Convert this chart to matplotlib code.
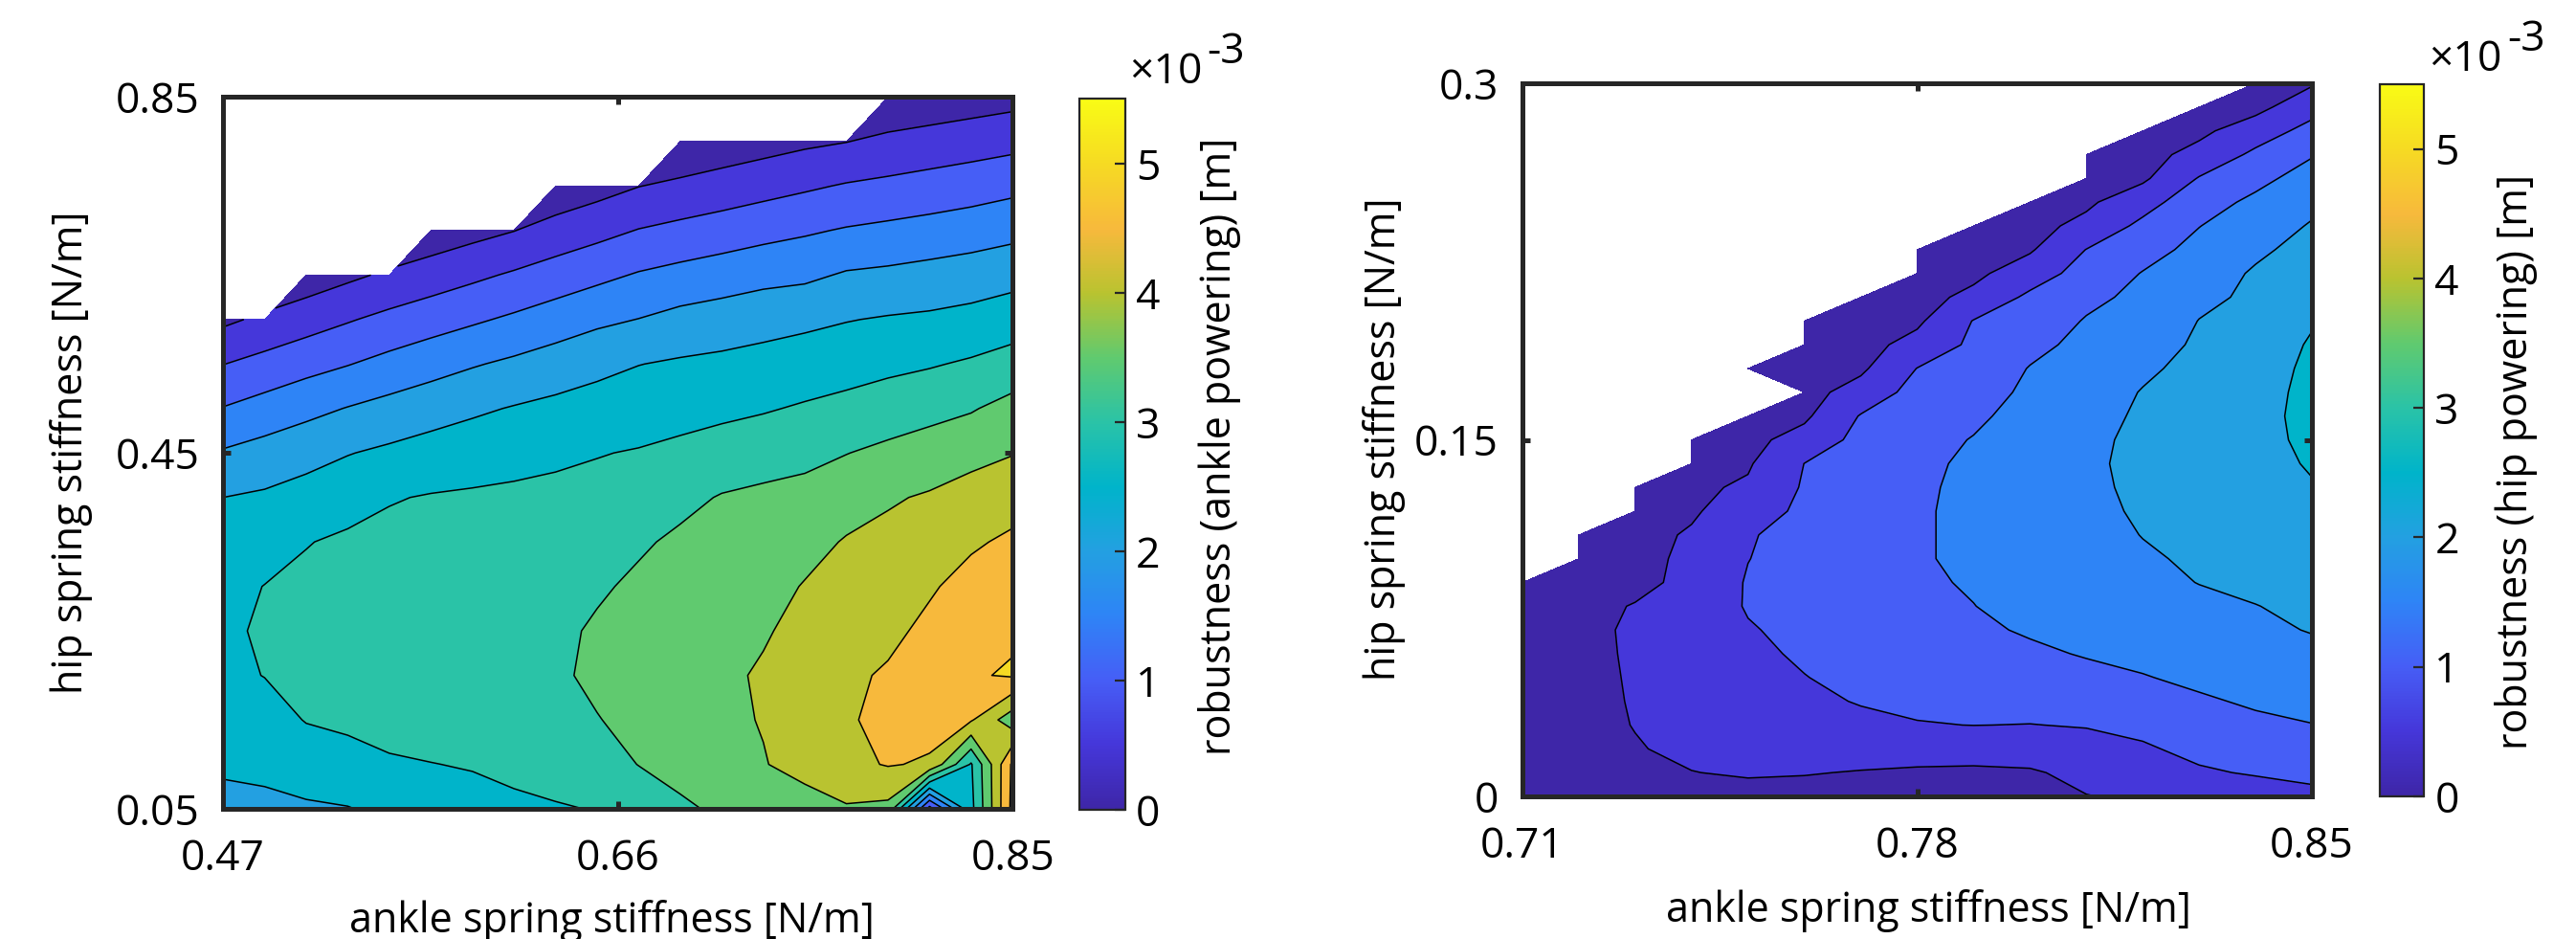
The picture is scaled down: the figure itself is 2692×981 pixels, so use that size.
import numpy as np
import matplotlib.pyplot as plt
from matplotlib.colors import LinearSegmentedColormap, Normalize
from matplotlib.cm import ScalarMappable

plt.rcParams['font.family'] = ['Open Sans', 'DejaVu Sans']

nan = np.nan

# ---- left panel: robustness (ankle powering), values in 1e-3 m ----
ankle_L = [0.47, 0.49, 0.51, 0.53, 0.55, 0.57, 0.59, 0.61, 0.63, 0.65,
           0.67, 0.69, 0.71, 0.73, 0.75, 0.77, 0.79, 0.81, 0.83, 0.85]
hip_L = [0.05, 0.10, 0.15, 0.20, 0.25, 0.30, 0.35, 0.40, 0.45,
         0.50, 0.55, 0.60, 0.65, 0.70, 0.75, 0.80, 0.85]
# one row per hip value (bottom to top), one column per ankle value
rob_ankle = [
    [2.30, 2.38, 2.43, 2.48, 2.60, 2.78, 2.84, 2.90, 2.96, 3.02, 3.20, 3.45, 3.55, 3.65, 3.75, 3.95, 3.87, 0.80, 2.85, 5.15],
    [2.60, 2.62, 2.76, 2.81, 2.95, 2.99, 3.03, 3.12, 3.20, 3.30, 3.51, 3.60, 3.78, 3.97, 4.20, 4.38, 4.53, 4.45, 2.95, 5.10],
    [2.78, 2.82, 3.02, 3.10, 3.15, 3.20, 3.22, 3.26, 3.36, 3.48, 3.64, 3.75, 3.88, 4.03, 4.30, 4.45, 4.62, 4.65, 4.55, 3.70],
    [2.90, 3.01, 3.12, 3.18, 3.22, 3.25, 3.28, 3.32, 3.42, 3.60, 3.70, 3.78, 3.90, 4.06, 4.25, 4.42, 4.55, 4.70, 4.95, 5.05],
    [2.93, 3.05, 3.15, 3.20, 3.25, 3.28, 3.30, 3.33, 3.40, 3.56, 3.66, 3.75, 3.88, 3.95, 4.15, 4.32, 4.40, 4.60, 4.80, 4.93],
    [2.85, 3.01, 3.10, 3.17, 3.20, 3.22, 3.26, 3.28, 3.33, 3.44, 3.58, 3.68, 3.82, 3.82, 4.03, 4.20, 4.27, 4.45, 4.65, 4.78],
    [2.70, 2.79, 2.98, 3.08, 3.12, 3.15, 3.17, 3.20, 3.25, 3.29, 3.44, 3.58, 3.72, 3.68, 3.83, 4.04, 4.12, 4.25, 4.44, 4.58],
    [2.50, 2.57, 2.69, 2.81, 2.97, 3.03, 3.06, 3.08, 3.12, 3.14, 3.24, 3.38, 3.53, 3.60, 3.63, 3.77, 3.95, 4.05, 4.20, 4.32],
    [2.05, 2.19, 2.33, 2.48, 2.59, 2.70, 2.78, 2.86, 2.91, 2.98, 3.03, 3.11, 3.21, 3.29, 3.39, 3.49, 3.60, 3.72, 3.85, 3.98],
    [1.52, 1.69, 1.86, 2.02, 2.16, 2.29, 2.42, 2.53, 2.62, 2.70, 2.77, 2.83, 2.89, 2.96, 3.05, 3.14, 3.26, 3.35, 3.46, 3.67],
    [0.99, 1.16, 1.33, 1.48, 1.65, 1.81, 1.96, 2.09, 2.23, 2.37, 2.49, 2.56, 2.61, 2.67, 2.73, 2.80, 2.88, 2.96, 3.06, 3.19],
    [0.40, 0.60, 0.78, 0.96, 1.13, 1.28, 1.43, 1.58, 1.74, 1.90, 2.01, 2.15, 2.23, 2.32, 2.40, 2.48, 2.54, 2.58, 2.65, 2.77],
    [nan, nan, 0.21, 0.40, 0.58, 0.74, 0.90, 1.06, 1.22, 1.38, 1.54, 1.65, 1.75, 1.85, 1.90, 2.05, 2.10, 2.17, 2.24, 2.33],
    [nan, nan, nan, nan, nan, 0.18, 0.34, 0.49, 0.69, 0.85, 1.02, 1.13, 1.23, 1.34, 1.44, 1.54, 1.61, 1.68, 1.76, 1.86],
    [nan, nan, nan, nan, nan, nan, nan, nan, 0.14, 0.31, 0.49, 0.60, 0.71, 0.82, 0.93, 1.04, 1.11, 1.19, 1.27, 1.37],
    [nan, nan, nan, nan, nan, nan, nan, nan, nan, nan, nan, 0.07, 0.19, 0.30, 0.41, 0.49, 0.61, 0.69, 0.77, 0.85],
    [nan, nan, nan, nan, nan, nan, nan, nan, nan, nan, nan, nan, nan, nan, nan, nan, 0.09, 0.17, 0.25, 0.33],
]

# ---- right panel: robustness (hip powering), values in 1e-3 m ----
ankle_R = [0.71, 0.72, 0.73, 0.74, 0.75, 0.76, 0.77, 0.78,
           0.79, 0.80, 0.81, 0.82, 0.83, 0.84, 0.85]
hip_R = [0.00, 0.01, 0.02, 0.03, 0.04, 0.05, 0.06, 0.07, 0.08, 0.09, 0.10,
         0.11, 0.12, 0.13, 0.14, 0.15, 0.16, 0.17, 0.18, 0.19, 0.20,
         0.21, 0.22, 0.23, 0.24, 0.25, 0.26, 0.27, 0.28, 0.29, 0.30]
rob_hip = [
    [0.15, 0.20, 0.25, 0.30, 0.33, 0.36, 0.38, 0.40, 0.42, 0.45, 0.49, 0.55, 0.62, 0.70, 0.88],
    [0.20, 0.27, 0.38, 0.49, 0.55, 0.52, 0.48, 0.45, 0.44, 0.46, 0.60, 0.75, 0.93, 1.05, 1.12],
    [0.25, 0.33, 0.47, 0.60, 0.68, 0.70, 0.68, 0.66, 0.65, 0.68, 0.80, 0.93, 1.15, 1.27, 1.32],
    [0.28, 0.35, 0.515, 0.68, 0.80, 0.86, 0.92, 0.98, 1.005, 0.99, 1.03, 1.15, 1.30, 1.42, 1.49],
    [0.30, 0.37, 0.53, 0.72, 0.85, 0.93, 1.02, 1.08, 1.12, 1.18, 1.25, 1.35, 1.45, 1.55, 1.62],
    [0.32, 0.38, 0.54, 0.73, 0.88, 0.99, 1.10, 1.20, 1.28, 1.35, 1.42, 1.48, 1.58, 1.67, 1.75],
    [0.33, 0.39, 0.55, 0.75, 0.92, 1.05, 1.18, 1.30, 1.38, 1.45, 1.52, 1.60, 1.70, 1.80, 1.90],
    [0.33, 0.39, 0.56, 0.77, 0.97, 1.10, 1.25, 1.38, 1.45, 1.53, 1.62, 1.72, 1.82, 1.92, 2.02],
    [0.32, 0.39, 0.52, 0.75, 1.03, 1.15, 1.30, 1.42, 1.495, 1.60, 1.70, 1.80, 1.90, 1.99, 2.10],
    [0.30, 0.38, 0.40, 0.60, 1.04, 1.20, 1.36, 1.45, 1.53, 1.65, 1.76, 1.88, 2.01, 2.10, 2.20],
    [nan, 0.36, 0.40, 0.57, 0.99, 1.20, 1.36, 1.46, 1.58, 1.70, 1.83, 1.95, 2.06, 2.16, 2.28],
    [nan, 0.34, 0.38, 0.54, 0.96, 1.17, 1.35, 1.46, 1.58, 1.73, 1.86, 2.01, 2.12, 2.22, 2.35],
    [nan, nan, 0.35, 0.45, 0.72, 1.12, 1.32, 1.45, 1.60, 1.75, 1.90, 2.05, 2.17, 2.28, 2.41],
    [nan, nan, 0.30, 0.42, 0.56, 1.05, 1.28, 1.43, 1.60, 1.76, 1.92, 2.08, 2.20, 2.32, 2.47],
    [nan, nan, nan, 0.38, 0.45, 1.005, 1.22, 1.40, 1.58, 1.75, 1.93, 2.10, 2.22, 2.35, 2.54],
    [nan, nan, nan, 0.33, 0.38, 0.67, 1.15, 1.35, 1.52, 1.72, 1.92, 2.08, 2.22, 2.36, 2.60],
    [nan, nan, nan, nan, 0.32, 0.42, 1.03, 1.28, 1.42, 1.66, 1.88, 2.05, 2.20, 2.35, 2.64],
    [nan, nan, nan, nan, nan, 0.35, 0.68, 1.18, 1.32, 1.58, 1.80, 2.02, 2.17, 2.32, 2.63],
    [nan, nan, nan, nan, 0.25, 0.32, 0.42, 1.01, 1.20, 1.52, 1.72, 1.93, 2.12, 2.28, 2.60],
    [nan, nan, nan, nan, nan, 0.30, 0.35, 0.65, 1.10, 1.38, 1.62, 1.82, 2.06, 2.22, 2.55],
    [nan, nan, nan, nan, nan, 0.25, 0.30, 0.42, 1.02, 1.25, 1.53, 1.70, 2.01, 2.15, 2.46],
    [nan, nan, nan, nan, nan, nan, 0.25, 0.35, 0.61, 1.10, 1.40, 1.60, 1.90, 2.08, 2.36],
    [nan, nan, nan, nan, nan, nan, nan, 0.30, 0.40, 0.75, 1.20, 1.52, 1.78, 2.05, 2.25],
    [nan, nan, nan, nan, nan, nan, nan, 0.25, 0.33, 0.45, 1.01, 1.33, 1.63, 1.92, 2.15],
    [nan, nan, nan, nan, nan, nan, nan, nan, 0.27, 0.36, 0.62, 1.12, 1.49, 1.75, 2.04],
    [nan, nan, nan, nan, nan, nan, nan, nan, nan, 0.28, 0.42, 0.80, 1.32, 1.59, 1.88],
    [nan, nan, nan, nan, nan, nan, nan, nan, nan, nan, 0.34, 0.42, 1.03, 1.38, 1.68],
    [nan, nan, nan, nan, nan, nan, nan, nan, nan, nan, 0.26, 0.35, 0.64, 1.10, 1.47],
    [nan, nan, nan, nan, nan, nan, nan, nan, nan, nan, nan, 0.28, 0.40, 0.75, 1.16],
    [nan, nan, nan, nan, nan, nan, nan, nan, nan, nan, nan, nan, 0.30, 0.36, 0.82],
    [nan, nan, nan, nan, nan, nan, nan, nan, nan, nan, nan, nan, nan, 0.20, 0.45],
]

levels = np.arange(0, 5.51, 0.5)
cticks = [0, 1, 2, 3, 4, 5]

# parula-like colours, one per contour band
parula_list = ['#3e26a8', '#4537da', '#465ef6', '#2e84f6', '#23a0e1', '#00b4ca',
               '#2ac3a7', '#60ca6f', '#b9c330', '#f7b93c', '#f6da23', '#f9fb15']
parula = LinearSegmentedColormap.from_list('parula', parula_list)

frame = '#262626'
fs = 16
fl = 15.5

fig = plt.figure(figsize=(13.46, 4.905), dpi=200)


def panel(ax_rect, cax_rect, x, y, z, xt, xtl, yt, ytl):
    ax = fig.add_axes(ax_rect)
    zm = np.ma.masked_invalid(np.array(z, dtype=float))
    ax.contourf(x, y, zm, levels=levels, colors=parula_list[:11])
    ax.contour(x, y, zm, levels=levels[1:-1], colors='k', linewidths=0.55)
    ax.set_xlim(x[0], x[-1])
    ax.set_ylim(y[0], y[-1])
    ax.set_xticks(xt)
    ax.set_xticklabels(xtl)
    ax.set_yticks(yt)
    ax.set_yticklabels(ytl)
    ax.tick_params(direction='in', top=True, right=True, length=3, width=1.8,
                   color=frame, labelsize=fs)
    ax.tick_params(axis='x', pad=11)
    ax.tick_params(axis='y', pad=9)
    for s in ax.spines.values():
        s.set_linewidth(1.8)
        s.set_color(frame)

    cax = fig.add_axes(cax_rect)
    sm = ScalarMappable(norm=Normalize(0, 5.5), cmap=parula)
    cb = fig.colorbar(sm, cax=cax, ticks=cticks)
    cb.ax.set_yticklabels([str(t) for t in cticks])
    cb.ax.tick_params(direction='in', length=4, width=0.8, labelsize=fs,
                      pad=4, color=frame)
    cb.outline.set_linewidth(0.8)
    cb.outline.set_edgecolor(frame)
    return ax


panel([0.0866, 0.1386, 0.3065, 0.758], [0.4190, 0.1376, 0.0178, 0.757],
      ankle_L, hip_L, rob_ankle,
      [0.47, 0.66, 0.85], ['0.47', '0.66', '0.85'],
      [0.05, 0.45, 0.85], ['0.05', '0.45', '0.85'])

panel([0.5910, 0.1519, 0.3065, 0.7594], [0.9239, 0.1519, 0.0171, 0.7584],
      ankle_R, hip_R, rob_hip,
      [0.71, 0.78, 0.85], ['0.71', '0.78', '0.85'],
      [0, 0.15, 0.3], ['0', '0.15', '0.3'])

# axis labels
fig.text(0.2377, 0.007, 'ankle spring stiffness [N/m]', ha='center', va='baseline', fontsize=fl)
fig.text(0.7486, 0.018, 'ankle spring stiffness [N/m]', ha='center', va='baseline', fontsize=fl)
fig.text(0.0277, 0.518, 'hip spring stiffness [N/m]', rotation=90, ha='center', va='center', fontsize=fl)
fig.text(0.5375, 0.532, 'hip spring stiffness [N/m]', rotation=90, ha='center', va='center', fontsize=fl)
fig.text(0.4736, 0.525, 'robustness (ankle powering) [m]', rotation=90, ha='center', va='center', fontsize=fl)
fig.text(0.9766, 0.508, 'robustness (hip powering) [m]', rotation=90, ha='center', va='center', fontsize=fl)

# colorbar exponent labels
fig.text(0.4383, 1 - 87 / 981, '\u00d710', ha='left', va='baseline', fontsize=fs)
fig.text(0.4686, 1 - 66 / 981, '-3', ha='left', va='baseline', fontsize=fs)
fig.text(0.9428, 1 - 74 / 981, '\u00d710', ha='left', va='baseline', fontsize=fs)
fig.text(0.9735, 1 - 53 / 981, '-3', ha='left', va='baseline', fontsize=fs)

fig.savefig('out.png', dpi=200)
